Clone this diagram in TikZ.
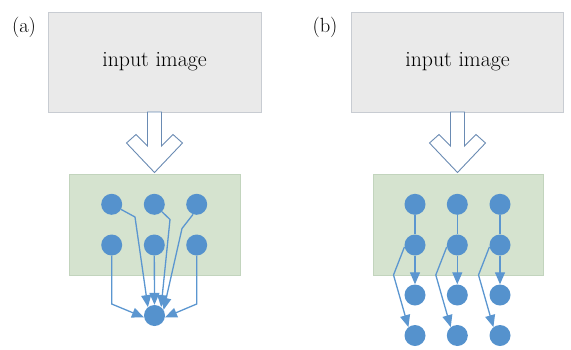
\documentclass[tikz,border=0pt]{standalone}
\usetikzlibrary{arrows.meta}
\definecolor{boxgray}{HTML}{EAEAEA}
\definecolor{boxgrayline}{HTML}{C8CCD2}
\definecolor{boxgreen}{HTML}{D5E3CF}
\definecolor{boxgreenline}{HTML}{C2D4BD}
\definecolor{dotblue}{HTML}{5592CD}
\definecolor{conblue}{HTML}{5B96D0}
\definecolor{arrline}{HTML}{6A8BB3}
\tikzset{
  inbox/.style={draw=boxgrayline, fill=boxgray, line width=0.8pt, minimum height=100pt, inner sep=0pt, font=\fontsize{21.8}{25}\selectfont},
  greenbox/.style={draw=boxgreenline, fill=boxgreen, line width=0.8pt, minimum height=101pt, inner sep=0pt},
  dot/.style={circle, fill=dotblue, minimum size=21pt, inner sep=0pt},
  con/.style={draw=conblue, line width=1.3pt, -{Triangle[length=12pt,width=10pt]}},
  plainline/.style={draw=conblue, line width=1.3pt},
  bigarr/.style={draw=arrline, fill=white, line width=0.9pt, line join=miter},
  panellabel/.style={font=\fontsize{20.5}{24}\selectfont, inner sep=0pt},
  hollowdown/.pic={\draw[bigarr] (-7,112) -- (-7,146) -- (-18.5,134.5) -- (-28,143) -- (0,172.5) -- (28,143) -- (18.5,134.5) -- (7,146) -- (7,112) -- cycle;}
}
\begin{document}
\begin{tikzpicture}[x=1pt,y=-1pt]
\useasboundingbox (0,0) rectangle (571,349);

% ---------- panel (a) ----------
\node[panellabel] (la) at (24,27) {(a)};
\node[inbox, minimum width=213pt] (ina) at (154.5,62) {input image};
\pic at (154.5,0) {hollowdown};
\node[greenbox, minimum width=171pt] (ga) at (154.5,224.5) {};

\node[dot] (a11) at (111.7,204.3) {};
\node[dot] (a12) at (154.3,204.3) {};
\node[dot] (a13) at (196.7,204.3) {};
\node[dot] (a21) at (111.7,245) {};
\node[dot] (a22) at (154.3,245) {};
\node[dot] (a23) at (196.7,245) {};
\node[dot] (aout) at (154.5,315.5) {};

\coordinate (a11k) at (135,217);
\coordinate (a12k) at (170,219.5);
\coordinate (a13k) at (182,228.5);
\coordinate (a21k) at (111.7,304);
\coordinate (a23k) at (196.7,304);

\draw[con] (a11) -- (a11k) -- (aout.128);
\draw[con] (a12) -- (a12k) -- (aout.52);
\draw[con] (a13.250) -- (a13k) -- (aout.32);
\draw[con] (a22) -- (aout);
\draw[con] (a21) -- (a21k) -- (aout.190);
\draw[con] (a23) -- (a23k) -- (aout.-10);

% ---------- panel (b) ----------
\node[panellabel] (lb) at (325,27) {(b)};
\node[inbox, minimum width=212pt] (inb) at (457.5,62) {input image};
\pic at (457.5,0) {hollowdown};
\node[greenbox, minimum width=170pt] (gb) at (458,224.5) {};

\foreach \c/\x in {1/415, 2/457.3, 3/500} {
  \node[dot] (b1\c) at (\x,204.3) {};
  \node[dot] (b2\c) at (\x,245) {};
  \node[dot] (b3\c) at (\x,295) {};
  \node[dot] (b4\c) at (\x,335.5) {};
  \coordinate (bk\c) at (\x-21.5,275);
  \draw[plainline] (b1\c) -- (b2\c);
  \draw[con] (b2\c) -- (b3\c);
  \draw[con] (b2\c.190) -- (bk\c) -- (b4\c.128);
}
\end{tikzpicture}
\end{document}
